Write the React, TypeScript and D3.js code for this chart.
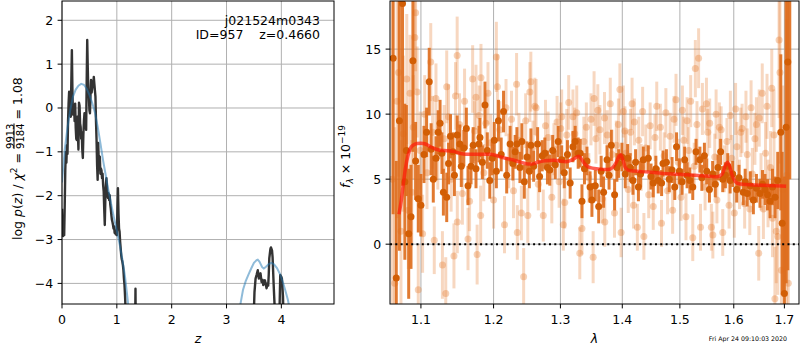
import React from 'react';
import * as d3 from 'd3';

// ---------------- DATA ----------------
const zTicks = [0, 1, 2, 3, 4];
const pzTicks = [-4, -3, -2, -1, 0, 1, 2];
const lamTicks = [1.1, 1.2, 1.3, 1.4, 1.5, 1.6, 1.7];
const fluxTicks = [0, 5, 10, 15];

// log p(z) (dark curve): [z, log p]
const pzDark: [number, number][] = [
  [0.0, -2.3], [0.01, -2.85], [0.02, -2.92], [0.03, -2.8], [0.04, -2.9], [0.05, -2.2], [0.06, -1.4], [0.07, -1.0],
  [0.08, -1.25], [0.09, -0.85], [0.1, -1.05], [0.11, -0.3], [0.12, 0.1], [0.13, 0.37], [0.14, -0.05], [0.15, 0.3],
  [0.16, -0.2], [0.17, 0.6], [0.18, 1.32], [0.19, 0.4], [0.2, -0.15], [0.21, -0.1], [0.22, 0.05], [0.23, -0.3],
  [0.24, 0.1], [0.25, -0.45], [0.26, -0.7], [0.27, -0.73], [0.28, -0.2], [0.29, -0.6], [0.3, -0.95], [0.31, 0.12],
  [0.32, 0.05], [0.33, -0.35], [0.34, -0.43], [0.35, -0.7], [0.36, -0.55], [0.37, -0.95], [0.38, -1.14], [0.39, -0.6],
  [0.4, -0.3], [0.41, -0.12], [0.42, -0.3], [0.43, -0.2], [0.44, -0.5], [0.45, 0.6], [0.46, 1.55], [0.47, 0.9],
  [0.48, 0.4], [0.49, 0.26], [0.5, -0.05], [0.51, -0.12], [0.52, 0.3], [0.53, 0.64], [0.54, 0.35], [0.55, 0.45],
  [0.56, 0.49], [0.57, 0.55], [0.58, 0.71], [0.59, 0.55], [0.6, 0.4], [0.61, 0.26], [0.62, -0.3], [0.63, -0.73],
  [0.64, -1.3], [0.65, -1.64], [0.66, -0.8], [0.67, -1.2], [0.68, -1.4], [0.69, -1.11], [0.7, -1.5], [0.71, -1.38],
  [0.72, -1.42], [0.73, -1.6], [0.74, -1.5], [0.75, -1.76], [0.76, -1.9], [0.77, -2.3], [0.78, -2.67], [0.79, -2.1],
  [0.8, -1.75], [0.81, -1.6], [0.82, -1.8], [0.83, -2.0], [0.84, -2.05], [0.85, -1.95], [0.86, -2.1], [0.87, -1.99],
  [0.88, -2.2], [0.89, -2.3], [0.9, -2.44], [0.91, -2.55], [0.92, -2.6], [0.93, -2.67], [0.94, -2.75], [0.95, -2.7],
  [0.96, -2.85], [0.97, -2.79], [0.98, -2.88], [0.99, -2.84], [1.0, -2.9], [1.01, -2.3], [1.02, -1.83], [1.03, -2.4],
  [1.04, -2.75], [1.05, -2.82], [1.06, -3.05], [1.07, -3.2], [1.08, -3.36], [1.09, -3.45], [1.1, -3.5], [1.11, -3.58],
  [1.12, -3.7], [1.13, -3.9], [1.14, -4.04], [1.15, -4.3], [1.16, -4.6], [1.17, -5.0], [1.18, -5.5], [1.25, -6.0],
  [1.33, -5.5], [1.34, -4.12], [1.35, -6.0], [3.45, -6.0], [3.49, -5.0], [3.51, -4.2], [3.53, -3.89], [3.55, -3.8],
  [3.57, -3.7], [3.59, -3.89], [3.6, -3.8], [3.62, -3.77], [3.64, -3.97], [3.66, -3.92], [3.67, -4.04], [3.7, -3.93],
  [3.72, -4.05], [3.73, -4.11], [3.75, -4.0], [3.76, -4.05], [3.77, -3.8], [3.78, -3.43], [3.8, -3.22], [3.81, -3.18],
  [3.83, -3.25], [3.84, -3.4], [3.86, -4.04], [3.88, -4.6], [3.89, -5.5], [3.95, -5.5], [3.97, -4.4], [3.98, -3.81],
  [4.0, -3.85], [4.01, -3.89], [4.03, -4.3], [4.05, -5.5], [4.96, -6.0],
];

// smooth prior-like curve (blue): [z, log p]
const pzSmooth: [number, number][] = [
  [0.0, -1.7], [0.05, -0.95], [0.1, -0.45], [0.15, -0.05], [0.2, 0.26], [0.25, 0.42], [0.3, 0.51], [0.35, 0.55],
  [0.4, 0.53], [0.45, 0.44], [0.5, 0.3], [0.55, 0.12], [0.6, -0.1], [0.65, -0.42], [0.7, -0.8], [0.75, -1.2],
  [0.8, -1.55], [0.85, -1.9], [0.9, -2.21], [0.95, -2.52], [1.0, -2.8], [1.05, -3.1], [1.1, -3.45], [1.15, -3.85],
  [1.2, -4.4], [1.25, -5.2], [1.3, -6.2], [2.0, -9], [3.1, -7], [3.2, -5.0], [3.25, -4.5], [3.3, -4.15],
  [3.35, -3.95], [3.4, -3.8], [3.45, -3.66], [3.5, -3.53], [3.55, -3.47], [3.57, -3.46], [3.6, -3.5], [3.65, -3.63],
  [3.68, -3.66], [3.72, -3.62], [3.77, -3.56], [3.82, -3.53], [3.87, -3.57], [3.92, -3.65], [3.98, -3.8], [4.03, -3.98],
  [4.07, -4.15], [4.12, -4.38], [4.17, -4.7], [4.25, -5.4], [4.4, -7.0],
];

// spectrum, main points: [wavelength um, flux, err]
const specMain: [number, number, number][] = [
  [1.064, 14.3, 12], [1.068, -2.6, 9], [1.072, 9.5, 10], [1.076, 18.5, 14], [1.079, 4.8, 6], [1.081, 7.2, 3.5],
  [1.084, 0.8, 5], [1.087, 2.1, 4], [1.0895, 14.1, 7], [1.093, 6.4, 3], [1.0965, 3.5, 2.6], [1.1, 3.0, 2.4],
  [1.104, 6.9, 2.2], [1.1075, 8.6, 1.9], [1.111, 12.5, 2.6], [1.1135, 7.3, 2.0], [1.1164, 5.0, 1.8], [1.12, 6.6, 1.7],
  [1.123, 8.6, 1.7], [1.1255, 9.3, 1.8], [1.128, 7.0, 1.6], [1.13, 4.0, 1.8], [1.1345, 3.6, 1.9], [1.137, 6.2, 1.6],
  [1.1396, 8.3, 1.7], [1.143, 7.1, 1.5], [1.145, 5.3, 1.6], [1.1488, 8.4, 1.5], [1.1525, 7.7, 1.5], [1.1545, 6.0, 1.6],
  [1.158, 7.4, 1.4], [1.1615, 8.9, 1.6], [1.1638, 4.5, 1.5], [1.168, 6.0, 1.4], [1.171, 7.6, 1.4], [1.175, 5.8, 1.5],
  [1.1792, 7.7, 1.4], [1.1806, 8.2, 1.5], [1.184, 6.3, 1.3], [1.1877, 10.7, 1.8], [1.191, 7.2, 1.4], [1.1946, 4.9, 1.4],
  [1.198, 6.6, 1.3], [1.201, 8.0, 1.4], [1.204, 5.6, 1.3], [1.207, 9.5, 1.6], [1.211, 6.9, 1.3], [1.2144, 10.2, 1.6],
  [1.219, 5.3, 1.4], [1.224, 7.7, 1.4], [1.228, 6.2, 1.3], [1.2314, 7.1, 1.3], [1.234, 7.7, 1.3], [1.2385, 5.9, 1.2],
  [1.2414, 7.9, 1.4], [1.245, 4.8, 1.3], [1.249, 6.7, 1.2], [1.2525, 5.6, 1.3], [1.2549, 7.6, 1.3], [1.259, 6.0, 1.2],
  [1.265, 7.7, 1.3], [1.268, 5.2, 1.2], [1.272, 6.8, 1.2], [1.276, 7.0, 1.2], [1.28, 5.9, 1.3], [1.2836, 5.7, 1.2],
  [1.288, 7.2, 1.2], [1.292, 6.1, 1.1], [1.2966, 7.9, 1.2], [1.302, 6.5, 1.1], [1.306, 5.5, 1.2], [1.311, 6.9, 1.1],
  [1.3153, 4.7, 1.2], [1.3197, 7.5, 1.2], [1.3232, 7.9, 1.2], [1.328, 7.0, 1.2], [1.3312, 7.0, 1.1], [1.334, 3.3, 1.3],
  [1.338, 5.8, 1.2], [1.342, 6.4, 1.1], [1.347, 4.4, 1.2], [1.35, 3.4, 1.3], [1.3555, 4.5, 1.2], [1.361, 2.9, 1.3],
  [1.365, 5.6, 1.2], [1.369, 4.0, 1.2], [1.3747, 6.5, 1.1], [1.378, 5.3, 1.1], [1.3817, 7.6, 1.2], [1.3872, 3.8, 1.2],
  [1.391, 5.9, 1.1], [1.394, 6.2, 1.1], [1.3994, 6.7, 1.1], [1.405, 5.4, 1.1], [1.409, 6.6, 1.1], [1.4134, 5.9, 1.1],
  [1.418, 4.9, 1.1], [1.4225, 6.3, 1.0], [1.4273, 4.4, 1.1], [1.431, 5.4, 1.0], [1.4357, 6.5, 1.0], [1.4443, 6.6, 1.0],
  [1.449, 5.2, 1.0], [1.4529, 4.7, 1.1], [1.4575, 5.8, 1.0], [1.4616, 4.9, 1.0], [1.4675, 4.7, 1.0], [1.47, 6.2, 1.0],
  [1.476, 6.3, 1.0], [1.481, 5.0, 1.0], [1.486, 5.7, 1.0], [1.4908, 4.4, 1.0], [1.494, 7.5, 1.1], [1.499, 5.6, 1.0],
  [1.504, 4.8, 1.0], [1.5086, 6.5, 1.0], [1.513, 5.3, 1.0], [1.518, 4.9, 1.0], [1.5233, 4.4, 1.0], [1.5293, 7.1, 1.0],
  [1.5364, 6.5, 1.0], [1.54, 5.1, 1.0], [1.5447, 6.8, 1.0], [1.549, 5.6, 1.0], [1.554, 4.2, 1.0], [1.56, 5.4, 1.0],
  [1.565, 4.6, 1.0], [1.57, 5.9, 1.0], [1.575, 7.1, 1.0], [1.579, 5.0, 1.0], [1.584, 5.3, 1.0], [1.5885, 6.0, 1.0],
  [1.593, 4.9, 1.0], [1.598, 5.4, 1.0], [1.6056, 4.2, 1.0], [1.61, 5.1, 1.0], [1.6183, 4.0, 1.0], [1.622, 4.8, 1.0],
  [1.626, 3.9, 1.0], [1.632, 4.5, 1.1], [1.638, 3.4, 1.1], [1.644, 4.3, 1.1], [1.651, 3.9, 1.1], [1.656, 4.6, 1.1],
  [1.661, 4.2, 1.2], [1.666, 3.8, 1.2], [1.671, 3.3, 1.3], [1.676, 4.4, 1.4], [1.681, 3.6, 1.6], [1.6865, 4.9, 2.2],
  [1.6927, 8.6, 6], [1.6955, 1.6, 5.5], [1.7, -3.8, 9], [1.7035, 9.0, 12], [1.707, 14, 16], [1.711, 21, 16],
];

// spectrum, secondary (faint) points: [wavelength um, flux, err]
const specFaint: [number, number, number][] = [
  [1.063, 5.0, 14], [1.066, -3.0, 12], [1.069, 11.0, 9], [1.071, 13.2, 8], [1.074, 1.0, 7], [1.077, 8.5, 6],
  [1.0815, 12.7, 5], [1.0835, 2.6, 4.5], [1.0857, 11.6, 4.5], [1.088, 4.0, 4], [1.09, 9.0, 4], [1.092, 15.9, 4],
  [1.093, 17.8, 4.5], [1.095, 11.7, 3.5], [1.0965, -3.5, 3.5], [1.099, 7.2, 3], [1.1022, 0.8, 3], [1.105, 10.0, 3],
  [1.108, 5.5, 2.8], [1.113, 14.0, 3], [1.1155, 8.6, 2.8], [1.1177, 0.3, 2.6], [1.12, 11.2, 2.7], [1.1225, 6.8, 2.6],
  [1.1287, -1.6, 2.6], [1.131, 8.1, 2.6], [1.1332, -3.8, 2.8], [1.1345, 12.1, 2.8], [1.137, 9.8, 2.5], [1.1405, 5.0, 2.5],
  [1.1444, -0.9, 2.5], [1.1465, 11.4, 2.6], [1.1488, 14.5, 3], [1.149, 1.7, 2.4], [1.152, 9.2, 2.4], [1.156, 3.9, 2.4],
  [1.159, 11.0, 2.5], [1.1638, 0.4, 2.4], [1.166, 3.3, 2.3], [1.1703, 12.7, 2.6], [1.173, 8.7, 2.3], [1.175, 11.3, 2.5],
  [1.1766, -0.8, 2.3], [1.1795, 9.9, 2.3], [1.1816, 2.2, 2.3], [1.182, 12.8, 2.6], [1.186, 5.5, 2.2], [1.189, 9.3, 2.3],
  [1.192, 11.6, 2.4], [1.196, 7.8, 2.2], [1.2, 3.4, 2.2], [1.204, 14.4, 2.7], [1.2055, 12.1, 2.5], [1.209, 8.8, 2.2],
  [1.2158, 1.5, 2.2], [1.218, 10.5, 2.2], [1.222, 6.4, 2.1], [1.226, 9.6, 2.2], [1.229, 4.1, 2.1], [1.2335, 12.3, 2.4],
  [1.2346, 0.9, 2.1], [1.237, 8.0, 2.1], [1.2406, 2.4, 2.1], [1.244, -2.5, 2.2], [1.247, 9.5, 2.1], [1.2502, 2.2, 2.1],
  [1.2533, 11.7, 2.3], [1.2548, 12.5, 2.3], [1.258, 7.5, 2.0], [1.2608, 10.6, 2.2], [1.2627, 10.5, 2.2], [1.266, 4.6, 2.0],
  [1.2736, 2.2, 2.0], [1.277, 9.1, 2.0], [1.281, 8.2, 2.0], [1.2867, 3.6, 2.0], [1.29, 7.3, 2.0], [1.2948, 9.4, 2.0],
  [1.298, 4.8, 2.0], [1.3005, 8.9, 2.0], [1.302, 9.8, 2.1], [1.3045, 1.5, 2.0], [1.3068, 3.2, 2.0], [1.31, 8.4, 2.0],
  [1.313, 10.9, 2.1], [1.3197, 9.8, 2.1], [1.3225, 8.5, 2.0], [1.3257, 10.1, 2.1], [1.3305, -0.7, 2.0], [1.334, 1.2, 2.0],
  [1.337, 7.9, 1.9], [1.341, 9.0, 1.9], [1.345, 5.1, 1.9], [1.3485, 9.6, 2.0], [1.352, -1.0, 2.0], [1.3535, 11.2, 2.1],
  [1.3565, 8.1, 1.9], [1.3596, 10.3, 2.0], [1.363, 8.8, 1.9], [1.367, 3.5, 1.9], [1.3705, 9.7, 2.0], [1.371, 1.7, 1.9],
  [1.375, 8.4, 1.9], [1.38, 10.8, 2.0], [1.383, 6.9, 1.9], [1.387, 2.4, 1.9], [1.39, 7.6, 1.9], [1.3935, 9.2, 2.0],
  [1.396, 11.9, 2.0], [1.398, 0.9, 1.9], [1.4017, 10.2, 2.0], [1.4045, 8.7, 1.9], [1.406, 7.0, 1.8], [1.41, 4.2, 1.8],
  [1.414, 8.6, 1.8], [1.4165, 10.8, 2.0], [1.419, 3.0, 1.8], [1.4205, 9.4, 1.8], [1.4255, 1.3, 1.8], [1.428, 8.0, 1.8],
  [1.432, 5.9, 1.8], [1.4345, 10.2, 1.9], [1.4367, 0.6, 1.8], [1.44, 7.4, 1.8], [1.445, 3.8, 1.8], [1.4475, 9.1, 1.8],
  [1.4529, 2.9, 1.8], [1.456, 8.2, 1.8], [1.459, 10.6, 1.9], [1.4654, 9.0, 1.8], [1.4673, 1.6, 1.8], [1.472, 6.8, 1.8],
  [1.475, 10.1, 1.9], [1.478, 4.1, 1.8], [1.4826, 8.3, 1.8], [1.487, 2.6, 1.8], [1.4895, 9.6, 1.8], [1.493, 11.1, 2.0],
  [1.497, 6.3, 1.8], [1.502, 3.6, 1.8], [1.5045, 10.3, 1.9], [1.507, 8.0, 1.8], [1.511, 2.1, 1.8], [1.513, 9.5, 1.8],
  [1.516, 7.2, 1.8], [1.5195, 11.0, 2.0], [1.5233, 0.5, 1.8], [1.526, 6.0, 1.8], [1.528, 13.5, 2.2], [1.531, 9.2, 1.8],
  [1.534, 14.3, 2.3], [1.5375, 1.3, 1.8], [1.541, 10.4, 2.0], [1.546, 4.4, 1.8], [1.5485, 10.8, 2.0], [1.551, 8.6, 1.8],
  [1.5545, 9.3, 1.9], [1.5576, 1.3, 1.8], [1.5604, 0.7, 1.8], [1.564, 6.7, 1.8], [1.5665, 10.0, 1.9], [1.568, 3.4, 1.8],
  [1.5726, 9.0, 1.9], [1.576, 8.8, 1.8], [1.579, 0.9, 1.8], [1.582, 5.8, 1.8], [1.587, 7.9, 1.8], [1.591, 3.0, 1.8],
  [1.5935, 9.9, 1.9], [1.596, 6.6, 1.8], [1.601, 2.4, 1.9], [1.6035, 10.4, 2.0], [1.606, 7.5, 1.9], [1.611, 4.6, 1.9],
  [1.6135, 8.6, 1.9], [1.616, 8.9, 1.9], [1.621, 3.1, 1.9], [1.6235, 9.8, 2.0], [1.626, 6.9, 2.0], [1.631, 2.7, 2.0],
  [1.6335, 10.5, 2.1], [1.636, 5.4, 2.0], [1.641, 8.1, 2.0], [1.644, 9.2, 2.1], [1.6485, -0.7, 2.1], [1.6495, 9.7, 2.2],
  [1.653, 4.8, 2.2], [1.6555, 11.6, 2.3], [1.6578, 2.7, 2.3], [1.662, 7.0, 2.4], [1.665, 10.6, 2.5], [1.667, 3.9, 2.6],
  [1.672, 5.9, 2.8], [1.6745, 12.0, 3.0], [1.676, 2.0, 3.0], [1.679, 8.4, 3.5], [1.6808, -4.2, 4], [1.6835, 1.0, 4],
  [1.6865, 0.6, 4.5], [1.6892, 15.7, 6], [1.691, 13.2, 7], [1.694, -2.0, 7], [1.697, 4.2, 8], [1.7047, 5.3, 12],
  [1.708, -3.0, 14],
];

// best-fit model: [wavelength um, flux]
const modelSpec: [number, number][] = [
  [1.0715, 2.3], [1.0745, 3.4], [1.077, 4.6], [1.08, 5.9], [1.083, 6.8], [1.086, 7.35], [1.09, 7.62], [1.095, 7.74],
  [1.1, 7.76], [1.105, 7.72], [1.11, 7.58], [1.115, 7.42], [1.125, 7.23], [1.135, 7.19], [1.145, 7.12], [1.155, 6.96],
  [1.165, 6.92], [1.18, 6.92], [1.195, 6.92], [1.205, 6.8], [1.215, 6.64], [1.225, 6.52], [1.238, 6.33], [1.25, 6.17],
  [1.256, 6.16], [1.265, 6.3], [1.276, 6.41], [1.29, 6.46], [1.3, 6.4], [1.308, 6.34], [1.315, 6.42], [1.32, 6.52],
  [1.325, 6.68], [1.329, 6.76], [1.333, 6.55], [1.338, 6.2], [1.346, 5.9], [1.36, 5.79], [1.376, 5.74], [1.384, 5.9],
  [1.39, 6.3], [1.395, 6.8], [1.3975, 6.88], [1.401, 6.5], [1.405, 5.9], [1.41, 5.7], [1.42, 5.62], [1.44, 5.56],
  [1.47, 5.44], [1.5, 5.38], [1.535, 5.28], [1.568, 5.18], [1.578, 5.4], [1.584, 6.05], [1.588, 6.3], [1.592, 6.0],
  [1.597, 5.3], [1.603, 4.8], [1.612, 4.62], [1.65, 4.54], [1.7035, 4.46],
];

const objName = 'j021524m0343';
const objInfo = 'ID=957    z=0.4660';
const stamp = 'Fri Apr 24 09:10:03 2020';

// ---------------- LAYOUT ----------------
const L = { x0: 62, x1: 334, y0: 1, y1: 304 };
const R = { x0: 390, x1: 799, y0: 1, y1: 304 };
const FONT = 'DejaVu Sans, sans-serif';
const FS = 12.5;
const GRID = '#b0b0b0';
const TICK = 4.4;
const XTL_Y = 324;
const XLAB_Y = 343;

export default function App() {
  const xz = d3.scaleLinear().domain([0, 4.96]).range([L.x0, L.x1]);
  const yp = d3.scaleLinear().domain([-4.47, 2.44]).range([L.y1, L.y0]);
  const xl = d3.scaleLog().domain([1.06, 1.73]).range([R.x0, R.x1]);
  const yf = d3.scaleLinear().domain([-4.6, 18.7]).range([R.y1, R.y0]);

  const pzLine = d3.line<[number, number]>().x((d) => xz(d[0])).y((d) => yp(d[1]));
  const modelLine = d3
    .line<[number, number]>()
    .x((d) => xl(d[0]))
    .y((d) => yf(d[1]))
    .curve(d3.curveMonotoneX);

  const fmt = (v: number) => (v < 0 ? '\u2212' + Math.abs(v) : String(v));
  const pre = { whiteSpace: 'pre' as const };

  return (
    <svg
      width={800}
      height={350}
      style={{ position: 'absolute', left: 0, top: 0, background: '#fff' }}
      fontFamily={FONT}
    >
      <defs>
        <clipPath id="clipL">
          <rect x={L.x0} y={L.y0} width={L.x1 - L.x0} height={L.y1 - L.y0} />
        </clipPath>
        <clipPath id="clipR">
          <rect x={R.x0} y={R.y0} width={R.x1 - R.x0} height={R.y1 - R.y0} />
        </clipPath>
      </defs>
      <rect x={0} y={0} width={800} height={350} fill="#fff" />

      {/* ---------- LEFT PANEL ---------- */}
      <g>
        {zTicks.map((t) => (
          <line key={'gz' + t} x1={xz(t)} x2={xz(t)} y1={L.y0} y2={L.y1} stroke={GRID} strokeWidth={1} />
        ))}
        {pzTicks.map((t) => (
          <line key={'gp' + t} x1={L.x0} x2={L.x1} y1={yp(t)} y2={yp(t)} stroke={GRID} strokeWidth={1} />
        ))}
        <g clipPath="url(#clipL)">
          <path d={pzLine(pzDark) || ''} fill="none" stroke="#333" strokeWidth={2.4} strokeLinejoin="round" />
          <path d={pzLine(pzSmooth) || ''} fill="none" stroke="#1f77b4" strokeOpacity={0.5} strokeWidth={2} />
        </g>
        <rect x={L.x0} y={L.y0} width={L.x1 - L.x0} height={L.y1 - L.y0} fill="none" stroke="#000" strokeWidth={1} />
        {zTicks.map((t) => (
          <g key={'tz' + t}>
            <line x1={xz(t)} x2={xz(t)} y1={L.y1} y2={L.y1 + TICK} stroke="#000" />
            <text x={xz(t)} y={XTL_Y} fontSize={FS} textAnchor="middle">
              {fmt(t)}
            </text>
          </g>
        ))}
        {pzTicks.map((t) => (
          <g key={'tp' + t}>
            <line x1={L.x0 - TICK} x2={L.x0} y1={yp(t)} y2={yp(t)} stroke="#000" />
            <text x={L.x0 - 8.8} y={yp(t)} dy="0.36em" fontSize={FS} textAnchor="end">
              {fmt(t)}
            </text>
          </g>
        ))}
        <text x={(L.x0 + L.x1) / 2} y={XLAB_Y} fontSize={FS} textAnchor="middle" fontStyle="italic">
          z
        </text>
        <text x={320} y={25} fontSize={FS} textAnchor="end">
          {objName}
        </text>
        <text x={320} y={38.5} fontSize={FS} textAnchor="end" xmlSpace="preserve" style={pre}>
          {objInfo}
        </text>
        {/* y label: log p(z) / chi^2 = 9913/9184 = 1.08 (flow layout) */}
        <g transform="translate(21.5,0) rotate(-90)" fontSize={FS}>
          <text x={-240} y={0} xmlSpace="preserve" style={pre}>
            <tspan>{'log '}</tspan>
            <tspan fontStyle="italic">p</tspan>
            <tspan>(</tspan>
            <tspan fontStyle="italic">z</tspan>
            <tspan>{') / '}</tspan>
            <tspan fontStyle="italic">χ</tspan>
            <tspan fontSize={9} dy={-5}>2</tspan>
            <tspan dy={5}>{' = '}</tspan>
            <tspan fontSize={10} dy={-7.5}>9913</tspan>
            <tspan fontSize={10} dx={-25.4} dy={9.5} textDecoration="overline">9184</tspan>
            <tspan dy={-2}>{' = 1.08'}</tspan>
          </text>
        </g>
      </g>

      {/* ---------- RIGHT PANEL ---------- */}
      <g>
        {lamTicks.map((t) => (
          <line key={'gl' + t} x1={xl(t)} x2={xl(t)} y1={R.y0} y2={R.y1} stroke={GRID} strokeWidth={1} />
        ))}
        {fluxTicks.map((t) => (
          <line key={'gf' + t} x1={R.x0} x2={R.x1} y1={yf(t)} y2={yf(t)} stroke={GRID} strokeWidth={1} />
        ))}
        <g clipPath="url(#clipR)">
          <g stroke="#e57a2f" strokeOpacity={0.3} strokeWidth={3}>
            {specFaint.map((d, i) => (
              <line key={'fe' + i} x1={xl(d[0])} x2={xl(d[0])} y1={yf(d[1] - d[2])} y2={yf(d[1] + d[2])} />
            ))}
          </g>
          <g fill="#e57a2f" fillOpacity={0.35}>
            {specFaint.map((d, i) => (
              <circle key={'fm' + i} cx={xl(d[0])} cy={yf(d[1])} r={3.5} />
            ))}
          </g>
          <g stroke="#de6b1b" strokeOpacity={0.9} strokeWidth={3}>
            {specMain.map((d, i) => (
              <line key={'me' + i} x1={xl(d[0])} x2={xl(d[0])} y1={yf(d[1] - d[2])} y2={yf(d[1] + d[2])} />
            ))}
          </g>
          <g fill="#d25e05">
            {specMain.map((d, i) => (
              <circle key={'mm' + i} cx={xl(d[0])} cy={yf(d[1])} r={3.5} />
            ))}
          </g>
          <path d={modelLine(modelSpec) || ''} fill="none" stroke="#ff1a0a" strokeOpacity={0.7} strokeWidth={3.5} />
          <line
            x1={R.x0}
            x2={R.x1}
            y1={yf(0)}
            y2={yf(0)}
            stroke="#000"
            strokeWidth={2}
            strokeDasharray="2,3.3"
          />
        </g>
        <rect x={R.x0} y={R.y0} width={R.x1 - R.x0} height={R.y1 - R.y0} fill="none" stroke="#000" strokeWidth={1} />
        {lamTicks.map((t) => (
          <g key={'tl' + t}>
            <line x1={xl(t)} x2={xl(t)} y1={R.y1} y2={R.y1 + TICK} stroke="#000" />
            <text x={xl(t)} y={XTL_Y} fontSize={FS} textAnchor="middle">
              {t.toFixed(1)}
            </text>
          </g>
        ))}
        {fluxTicks.map((t) => (
          <g key={'tf' + t}>
            <line x1={R.x0 - TICK} x2={R.x0} y1={yf(t)} y2={yf(t)} stroke="#000" />
            <text x={R.x0 - 8.8} y={yf(t)} dy="0.36em" fontSize={FS} textAnchor="end">
              {fmt(t)}
            </text>
          </g>
        ))}
        <text x={(R.x0 + R.x1) / 2} y={XLAB_Y} fontSize={FS} textAnchor="middle" fontStyle="italic">
          λ
        </text>
        <g transform="translate(350,0) rotate(-90)" fontSize={FS}>
          <text x={-188} y={0} xmlSpace="preserve" style={pre}>
            <tspan fontStyle="italic">f</tspan>
            <tspan fontStyle="italic" fontSize={9} dy={3}>λ</tspan>
            <tspan dy={-3}>{' × 10'}</tspan>
            <tspan fontSize={9} dy={-5}>{'\u221219'}</tspan>
          </text>
        </g>
        <text x={787} y={341} fontSize={6.25} textAnchor="end">
          {stamp}
        </text>
      </g>
    </svg>
  );
}
